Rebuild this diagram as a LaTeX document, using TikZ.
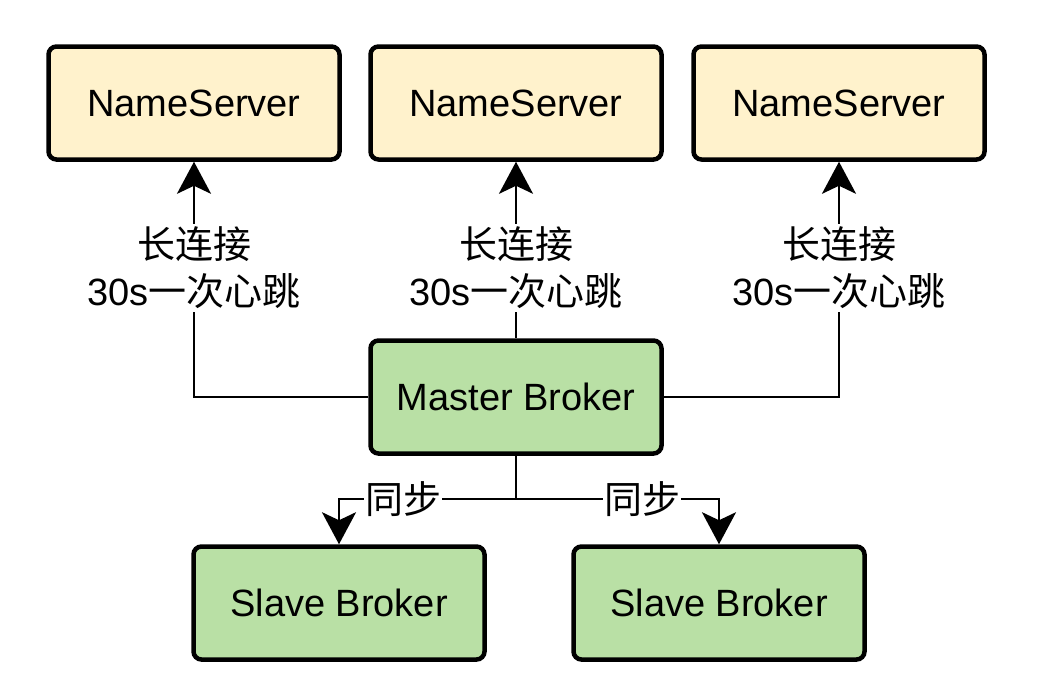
\documentclass[tikz,border=0pt]{standalone}
\usepackage{fontspec}
\setmainfont{Liberation Sans}
\newfontfamily\cjk{Noto Sans CJK SC}
\usetikzlibrary{arrows.meta}

\tikzset{
    box/.style={draw=black, line width=4.5pt, rounded corners=8pt,
        minimum width=291pt, minimum height=113pt,
        font=\fontsize{38}{45}\selectfont},
    nsbox/.style={box, fill=nsyellow},
    brokerbox/.style={box, fill=brokergreen},
    link/.style={line width=2.5pt, -{Stealth[length=32pt,width=34pt,inset=8pt]}},
    plainlink/.style={line width=2.5pt},
    linklabel/.style={fill=white, inner sep=3pt, align=center,
        font=\fontsize{38}{47}\selectfont}
}
\definecolor{nsyellow}{HTML}{FFF2CC}
\definecolor{brokergreen}{HTML}{B9E0A5}

\begin{document}
\begin{tikzpicture}[x=1pt,y=-1pt] % 1pt per pixel of the reference

        \useasboundingbox (0,0) rectangle (1043,678);

        % NameServer row
        \foreach \i/\x in {1/194,2/516,3/839} {
            \node[nsbox] (ns\i) at (\x,103) {NameServer};
        }

        % Brokers
        \node[brokerbox] (master) at (516,397) {Master Broker};
        \node[brokerbox] (slave1) at (339,603) {Slave Broker};
        \node[brokerbox] (slave2) at (719,603) {Slave Broker};

        % Heartbeat connections to every NameServer
        \draw[link] (master.west) -| (ns1.south);
        \draw[link] (master.north) -- (ns2.south);
        \draw[link] (master.east) -| (ns3.south);
        \foreach \i in {1,2,3} {
            \node[linklabel] (hb\i) at (ns\i.south |- 0,268) {{\cjk 长连接}\\30s{\cjk 一次心跳}};
        }

        % Replication to the slaves
        \coordinate (split) at (master.south |- 0,499);
        \draw[plainlink] (master.south) -- (split);
        \draw[link] (split) -| (slave1.north);
        \draw[link] (split) -| (slave2.north);
        \node[linklabel, inner sep=1pt] (sync1) at (403,499) {\cjk 同步};
        \node[linklabel, inner sep=1pt] (sync2) at (642,499) {\cjk 同步};

    \end{tikzpicture}
\end{document}
